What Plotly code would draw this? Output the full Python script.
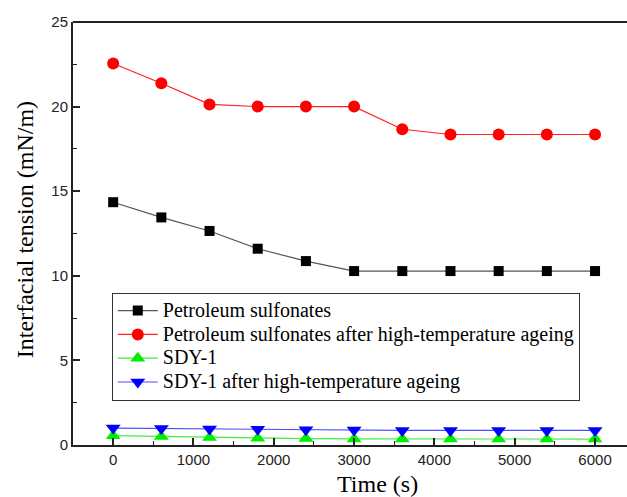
import plotly.graph_objects as go

time_s = [0, 600, 1200, 1800, 2400, 3000, 3600, 4200, 4800, 5400, 6000]
petroleum = [14.35, 13.45, 12.65, 11.6, 10.87, 10.28, 10.28, 10.28, 10.28, 10.28, 10.28]
petroleum_aged = [22.55, 21.38, 20.13, 20.0, 20.0, 20.0, 18.66, 18.35, 18.35, 18.35, 18.35]
sdy1 = [0.55, 0.5, 0.45, 0.4, 0.38, 0.36, 0.35, 0.35, 0.35, 0.35, 0.35]
sdy1_aged = [1.0, 0.97, 0.95, 0.93, 0.9, 0.88, 0.86, 0.86, 0.86, 0.86, 0.86]

names = ["Petroleum sulfonates",
         "Petroleum sulfonates after high-temperature ageing",
         "SDY-1",
         "SDY-1 after high-temperature ageing"]
series = [petroleum, petroleum_aged, sdy1, sdy1_aged]
line_colors = ["#555555", "#ff2020", "#40ee40", "#4d4dff"]
marker_colors = ["#000000", "#ff0000", "#00ee00", "#0000ff"]
symbols = ["square", "circle", "triangle-up", "triangle-down"]
sizes = [10, 12, 13, 13]

fig = go.Figure()
for n, s, lc, mc, sym, sz in zip(names, series, line_colors, marker_colors, symbols, sizes):
    fig.add_trace(go.Scatter(
        x=time_s, y=s, name='<span style="font-size:20px">' + n + '</span>',
        mode="lines+markers",
        line=dict(color=lc, width=1.2),
        marker=dict(color=mc, symbol=sym, size=sz, line=dict(width=0)),
        cliponaxis=False,
    ))

title_font = dict(family="Liberation Serif", size=24, color="#000")

fig.update_layout(
    width=627, height=497,
    margin=dict(l=73, r=0, t=22, b=52),
    paper_bgcolor="white", plot_bgcolor="white",
    showlegend=True,
    legend=dict(
        x=0.07, y=0.36, xanchor="left", yanchor="top",
        bgcolor="white", bordercolor="#333333", borderwidth=1,
        font=dict(family="Liberation Serif", size=16, color="#000"),
        itemwidth=40, tracegroupgap=0,
    ),
    xaxis=dict(
        range=[-500, 6398], tickvals=[0, 1000, 2000, 3000, 4000, 5000, 6000],
        ticks="inside", ticklen=7, tickwidth=1.5, tickcolor="#222",
        minor=dict(dtick=500, ticks="inside", ticklen=4, tickwidth=1.2, tickcolor="#222"),
        showline=True, linecolor="#222", linewidth=2, showgrid=False, zeroline=False,
        tickfont=dict(family="Liberation Sans", size=15, color="#222"),
    ),
    yaxis=dict(
        range=[0, 25], tickvals=[0, 5, 10, 15, 20, 25],
        ticks="inside", ticklen=7, tickwidth=1.5, tickcolor="#222",
        minor=dict(dtick=2.5, ticks="inside", ticklen=4, tickwidth=1.2, tickcolor="#222"),
        showline=True, linecolor="#222", linewidth=2, showgrid=False, zeroline=False,
        tickfont=dict(family="Liberation Sans", size=15, color="#222"),
    ),
    annotations=[
        dict(text="Time (s)", xref="paper", yref="paper", x=0.5505, y=-0.092,
             xanchor="center", yanchor="middle", showarrow=False, font=title_font),
        dict(text="Interfacial tension (mN/m)", xref="paper", yref="paper", x=-0.0866, y=0.508,
             xanchor="center", yanchor="middle", showarrow=False, textangle=-90, font=title_font),
    ],
    shapes=[dict(type="line", xref="paper", yref="paper", x0=0, x1=1, y0=1, y1=1,
                 line=dict(color="#222", width=2))],
)

fig.write_html("out.html")
